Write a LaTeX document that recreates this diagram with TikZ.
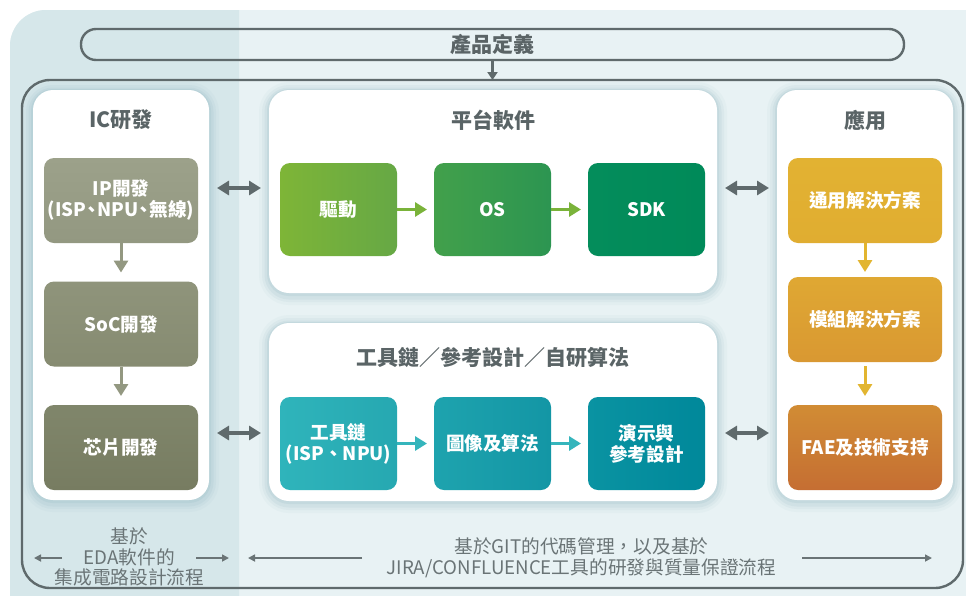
\documentclass[tikz,border=0pt]{standalone}
\usepackage{fontspec}
\setmainfont{Noto Sans CJK TC}
\usetikzlibrary{arrows.meta}

\definecolor{bgLight}{HTML}{E8F2F4}
\definecolor{bgDark}{HTML}{D6E7EA}
\definecolor{frameGray}{HTML}{5F6A6C}
\definecolor{titleGray}{HTML}{5A6466}
\definecolor{noteGray}{HTML}{6A7476}
\definecolor{haloBlue}{HTML}{8AB3BE}
% IC column
\definecolor{icA1}{HTML}{9CA18A}\definecolor{icA2}{HTML}{939881}
\definecolor{icB1}{HTML}{8F947B}\definecolor{icB2}{HTML}{868B71}
\definecolor{icC1}{HTML}{80866B}\definecolor{icC2}{HTML}{777C61}
% platform row
\definecolor{plA1}{HTML}{7EB537}\definecolor{plA2}{HTML}{66A845}
\definecolor{plB1}{HTML}{42A04B}\definecolor{plB2}{HTML}{2C9551}
\definecolor{plC1}{HTML}{048D5B}\definecolor{plC2}{HTML}{008A59}
\definecolor{plArrow}{HTML}{7AB33A}
% tool row
\definecolor{tlA1}{HTML}{2FB4BB}\definecolor{tlA2}{HTML}{26A8B1}
\definecolor{tlB1}{HTML}{1EA3AE}\definecolor{tlB2}{HTML}{1396A5}
\definecolor{tlC1}{HTML}{0A93A2}\definecolor{tlC2}{HTML}{00889A}
\definecolor{tlArrow}{HTML}{35B5BC}
% application column
\definecolor{apA1}{HTML}{E2B232}\definecolor{apA2}{HTML}{E0AD31}
\definecolor{apB1}{HTML}{DFA833}\definecolor{apB2}{HTML}{D99832}
\definecolor{apC1}{HTML}{D18C34}\definecolor{apC2}{HTML}{C56E33}
\definecolor{apArrow}{HTML}{E2B530}

\tikzset{
  panel/.style={fill=white, rounded corners=20, inner sep=0, outer sep=0,
    preaction={draw=haloBlue, line width=20, opacity=0.06, transform canvas={yshift=-2pt}},
    preaction={draw=haloBlue, line width=14, opacity=0.09, transform canvas={yshift=-2pt}},
    preaction={draw=haloBlue, line width=9, opacity=0.12, transform canvas={yshift=-2pt}},
    preaction={draw=haloBlue, line width=4, opacity=0.16, transform canvas={yshift=-1pt}}},
  ptitle/.style={font=\fontsize{21}{24}\selectfont\bfseries, text=titleGray, inner sep=0},
  colbox/.style={rounded corners=10, inner sep=0, outer sep=0, minimum width=154, minimum height=85,
    text=white, align=center, font=\fontsize{18.6}{21}\selectfont\bfseries},
  rowbox/.style={rounded corners=10, inner sep=0, outer sep=0, minimum width=117, minimum height=93,
    text=white, align=center, font=\fontsize{18.6}{21}\selectfont\bfseries},
  flow/.style={line width=3, -{Triangle[width=14,length=12]}},
  link/.style={line width=3.6, draw=frameGray, {Triangle[width=14,length=12]}-{Triangle[width=14,length=12]},
    shorten <=8, shorten >=8},
  note/.style={font=\fontsize{18.7}{20.8}\selectfont, text=noteGray, align=center, inner sep=0},
  thin/.style={line width=1.6, draw=noteGray, -{Triangle[width=7,length=7]}}
}

\begin{document}
\begin{tikzpicture}[x=1pt,y=-1pt]
\clip (0,0) rectangle (966,595);
\fill[white] (0,0) rectangle (966,595);

% tinted backdrop, darker under the IC column
\fill[bgLight, rounded corners=36] (10,10) rectangle (1010,640);
\begin{scope}
  \clip (0,0) rectangle (239,595);
  \fill[bgDark, rounded corners=36] (10,10) rectangle (1010,640);
\end{scope}

% product definition bar and the main frame
\node[draw=frameGray, line width=2.4, rounded corners=15, minimum width=823, minimum height=31,
      inner sep=0, outer sep=0, font=\fontsize{21}{24}\selectfont\bfseries, text=titleGray]
      (pd) at (492.5,44.5) {產品定義};
\node[draw=frameGray, line width=2.4, rounded corners=28, minimum width=941, minimum height=508,
      inner sep=0, outer sep=0] (main) at (492.5,334) {};
\draw[frameGray, line width=2.4, -{Triangle[width=10,length=8]}] (pd.south) -- (main.north);

% white panels
\node[panel, minimum width=176, minimum height=410] (ic)   at (121,295) {};
\node[panel, minimum width=448, minimum height=203] (plat) at (493,191.5) {};
\node[panel, minimum width=448, minimum height=178] (tool) at (493,412) {};
\node[panel, minimum width=176, minimum height=410] (app)  at (865,295) {};

\node[ptitle] (icT)   at (121,120) {IC研發};
\node[ptitle] (platT) at (493,120) {平台軟件};
\node[ptitle] (toolT) at (493,358) {工具鏈／參考設計／自研算法};
\node[ptitle] (appT)  at (865,120) {應用};

% IC column
\node[colbox, top color=icA1, bottom color=icA2] (ip)   at (121,200.5)
  {IP開發\\(ISP\kern-0.2em、\kern-0.2em NPU\kern-0.2em、\kern-0.2em 無線)};
\node[colbox, top color=icB1, bottom color=icB2] (soc)  at (121,324)   {SoC開發};
\node[colbox, top color=icC1, bottom color=icC2] (chip) at (121,447.5) {芯片開發};
\draw[flow, draw=icA2, shorten >=9] (ip) -- (soc);
\draw[flow, draw=icA2, shorten >=9] (soc) -- (chip);

% platform software row
\node[rowbox, left color=plA1, right color=plA2] (drv) at (338.5,209.5) {驅動};
\node[rowbox, left color=plB1, right color=plB2] (os)  at (492.5,209.5) {OS};
\node[rowbox, left color=plC1, right color=plC2] (sdk) at (646.5,209.5) {SDK};
\draw[flow, draw=plArrow, shorten >=7] (drv) -- (os);
\draw[flow, draw=plArrow, shorten >=7] (os) -- (sdk);

% tool chain row
\node[rowbox, left color=tlA1, right color=tlA2] (tc)   at (338.5,443.5) {工具鏈\\(ISP、NPU)};
\node[rowbox, left color=tlB1, right color=tlB2] (img)  at (492.5,443.5) {圖像及算法};
\node[rowbox, left color=tlC1, right color=tlC2] (demo) at (646.5,443.5) {演示與\\參考設計};
\draw[flow, draw=tlArrow, shorten >=7] (tc) -- (img);
\draw[flow, draw=tlArrow, shorten >=7] (img) -- (demo);

% application column
\node[colbox, top color=apA1, bottom color=apA2] (gen) at (865,200.5) {\raisebox{3pt}{通用解決方案}};
\node[colbox, top color=apB1, bottom color=apB2] (mod) at (865,319.5) {模組解決方案};
\node[colbox, top color=apC1, bottom color=apC2] (fae) at (865,447.5) {FAE及技術支持};
\draw[flow, draw=apArrow, shorten >=5] (gen) -- (mod);
\draw[flow, draw=apArrow, shorten <=4, shorten >=9] (mod) -- (fae);

% links between panels
\coordinate (rowU) at (0,188);
\coordinate (rowL) at (0,433);
\draw[link] (ic.east |- rowU) -- (plat.west |- rowU);
\draw[link] (ic.east |- rowL) -- (tool.west |- rowL);
\draw[link] (plat.east |- rowU) -- (app.west |- rowU);
\draw[link] (tool.east |- rowL) -- (app.west |- rowL);

% process notes along the bottom
\node[note] (eda) at (129.5,557) {基於\\EDA軟件的\\集成電路設計流程};
\node[note] (git) at (581.5,558) {基於GIT的代碼管理，以及基於\\JIRA/CONFLUENCE工具的研發與質量保證流程};
\coordinate (edaL0) at (62,558);  \coordinate (edaL1) at (34,558);
\coordinate (edaR0) at (196,558); \coordinate (edaR1) at (229,558);
\coordinate (gitL0) at (362,558); \coordinate (gitL1) at (248,558);
\coordinate (gitR0) at (802,558); \coordinate (gitR1) at (932,558);
\draw[thin] (edaL0) -- (edaL1);
\draw[thin] (edaR0) -- (edaR1);
\draw[thin] (gitL0) -- (gitL1);
\draw[thin] (gitR0) -- (gitR1);
\end{tikzpicture}
\end{document}
